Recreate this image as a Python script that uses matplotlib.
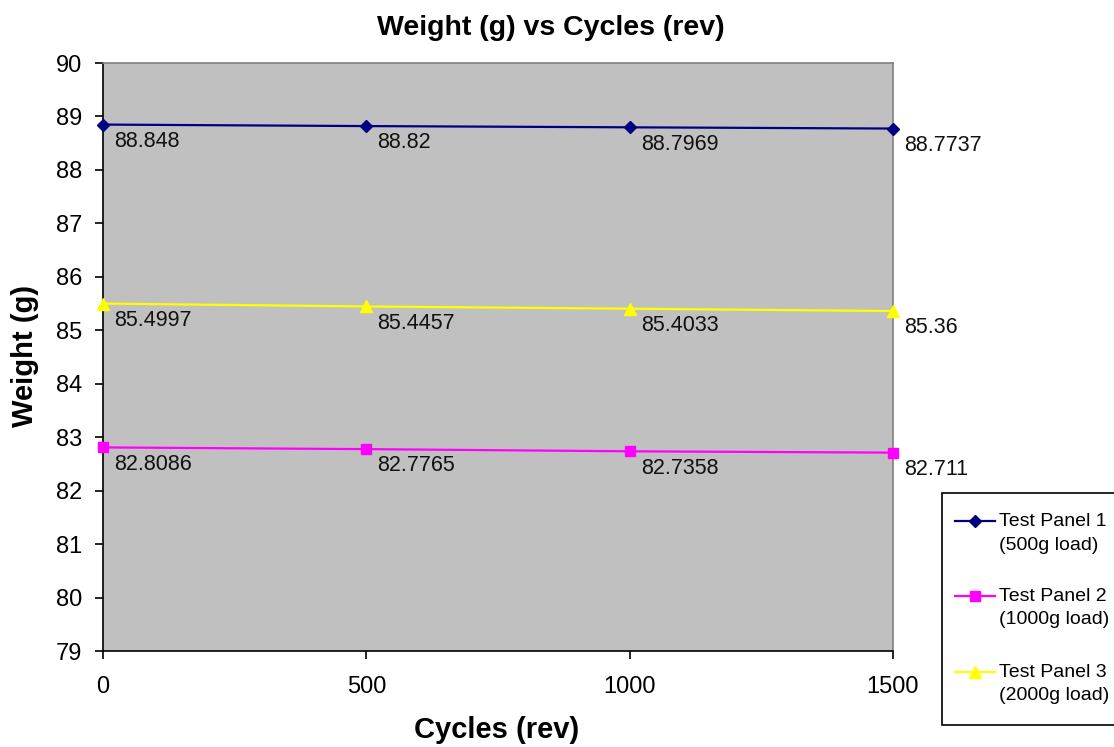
import matplotlib
matplotlib.use("Agg")
import matplotlib.pyplot as plt
from matplotlib.lines import Line2D
from matplotlib.patches import Rectangle

plt.rcParams["font.family"] = ["Liberation Sans", "DejaVu Sans"]

cycles = [0, 500, 1000, 1500]
panel1 = [88.848, 88.82, 88.7969, 88.7737]
panel2 = [82.8086, 82.7765, 82.7358, 82.711]
panel3 = [85.4997, 85.4457, 85.4033, 85.36]
series_names = ["Test Panel 1\n(500g load)", "Test Panel 2\n(1000g load)", "Test Panel 3\n(2000g load)"]
y_ticks = list(range(79, 91))
x_ticks = [0, 500, 1000, 1500]

W, H = 1114, 747
fig = plt.figure(figsize=(W / 100, H / 100), dpi=100)
ax = fig.add_axes([103 / W, 1 - 651 / H, 790 / W, 588 / H])
ax.set_facecolor("#c0c0c0")

styles = [
    (panel1, "#000080", "D", 6),
    (panel2, "#ff00ff", "s", 7),
    (panel3, "#ffff00", "^", 8),
]
for vals, color, marker, ms in styles:
    ax.plot(cycles, vals, color=color, marker=marker, markersize=ms,
            linewidth=1.6, clip_on=False, zorder=3)
    for x, y in zip(cycles, vals):
        ax.annotate(f"{y:g}", (x, y), xytext=(8, -4.5), textcoords="offset points",
                    ha="left", va="top", fontsize=15.5, color="#111111",
                    annotation_clip=False)

ax.set_xlim(0, 1500)
ax.set_ylim(79, 90)
ax.set_xticks(x_ticks)
ax.set_yticks(y_ticks)
ax.tick_params(labelsize=17, length=6, width=1.2, direction="out")
ax.tick_params(axis="y", pad=9)
ax.tick_params(axis="x", pad=12)
for side in ["left", "bottom"]:
    ax.spines[side].set_color("black")
    ax.spines[side].set_linewidth(1.2)
for side in ["top", "right"]:
    ax.spines[side].set_color("#808080")
    ax.spines[side].set_linewidth(1.2)

fig.text(551 / W, 1 - 28 / H, "Weight (g) vs Cycles (rev)",
         fontsize=20.5, fontweight="bold", ha="center", va="center")
fig.text(497 / W, 1 - 730 / H, "Cycles (rev)", fontsize=21, fontweight="bold",
         ha="center", va="center")
fig.text(25 / W, 1 - 356 / H, "Weight (g)", fontsize=21, fontweight="bold",
         ha="center", va="center", rotation=90)

# legend box drawn in figure pixels, handle aligned with first label line
fig.patches.append(Rectangle((942 / W, 1 - 725 / H), 200 / W, 232 / H,
                             transform=fig.transFigure, facecolor="white",
                             edgecolor="black", linewidth=1.2))
rows_y = [521, 596, 672]
for (vals, color, marker, ms), name, yp in zip(styles, series_names, rows_y):
    yf = 1 - yp / H
    fig.lines.append(Line2D([955 / W, 995 / W], [yf, yf], transform=fig.transFigure,
                            color=color, linewidth=1.6))
    fig.lines.append(Line2D([975 / W], [yf], transform=fig.transFigure,
                            color=color, marker=marker, markersize=ms))
    fig.text(999 / W, yf + 8 / H, name, fontsize=14, ha="left", va="top",
             linespacing=1.5)

fig.savefig("out.png", dpi=100)
